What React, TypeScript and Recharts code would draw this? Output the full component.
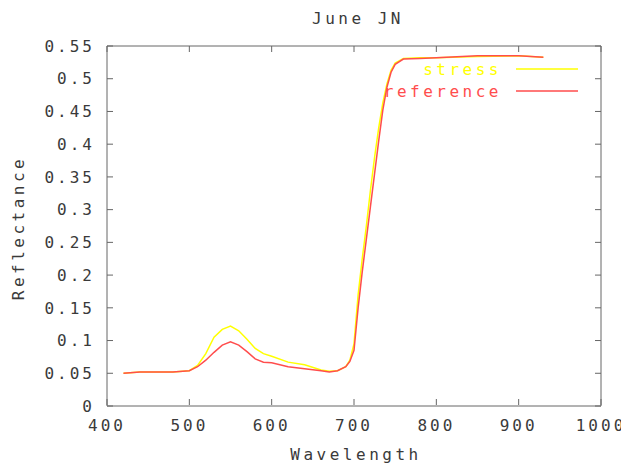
import React from 'react';
import { LineChart, Line, XAxis, YAxis, Legend } from 'recharts';

const wavelength = [
  420, 440, 460, 480, 500, 510, 520, 530, 540, 550, 560, 570, 580, 590, 600,
  620, 640, 660, 670, 680, 690, 695, 700, 705, 710, 715, 720, 725, 730, 735,
  740, 745, 750, 760, 780, 800, 850, 900, 930,
];
const stress = [
  0.05, 0.052, 0.052, 0.052, 0.054, 0.062, 0.08, 0.105, 0.117, 0.122, 0.115,
  0.102, 0.088, 0.08, 0.076, 0.067, 0.063, 0.055, 0.053, 0.054, 0.06, 0.07,
  0.095, 0.17, 0.225, 0.275, 0.33, 0.38, 0.425, 0.463, 0.492, 0.513, 0.524,
  0.531, 0.532, 0.532, 0.534, 0.535, 0.533,
];
const reference = [
  0.05, 0.052, 0.052, 0.052, 0.054, 0.06, 0.07, 0.082, 0.093, 0.098, 0.093,
  0.083, 0.072, 0.067, 0.066, 0.06, 0.057, 0.054, 0.052, 0.054, 0.06, 0.068,
  0.085, 0.15, 0.205, 0.255, 0.305, 0.355, 0.405, 0.452, 0.487, 0.51, 0.522,
  0.53, 0.531, 0.532, 0.535, 0.535, 0.533,
];
const xTicks = [400, 500, 600, 700, 800, 900, 1000];
const yTicks = [0, 0.05, 0.1, 0.15, 0.2, 0.25, 0.3, 0.35, 0.4, 0.45, 0.5, 0.55];

const data = wavelength.map((wl, i) => ({
  wl,
  stress: stress[i],
  reference: reference[i],
}));

const FONT = '"DejaVu Sans Mono", monospace';
const TEXT = '#3a3a3a';
const AXIS = '#666666';
const YELLOW = '#ffff00';
const RED = '#ff4d4d';
const TICK = 6;

const textStyle = { fontFamily: FONT, fontSize: 16, letterSpacing: 3.5, fill: TEXT };
const tickText = { ...textStyle, letterSpacing: 3 };

// gnuplot-style ticks point into the plot
const BottomTick = (props: any) => {
  const { x, y, payload } = props;
  const axisY = y - 15;
  return (
    <g>
      <line x1={x} x2={x} y1={axisY} y2={axisY - TICK} stroke={AXIS} />
      <text x={x} y={y} dy="0.71em" textAnchor="middle" style={tickText}>
        {payload.value}
      </text>
    </g>
  );
};

const LeftTick = (props: any) => {
  const { x, y, payload } = props;
  const axisX = x + 15;
  return (
    <g>
      <line x1={axisX} x2={axisX + TICK} y1={y} y2={y} stroke={AXIS} />
      <text x={x + 3} y={y} dy="0.36em" textAnchor="end" style={tickText}>
        {payload.value}
      </text>
    </g>
  );
};

const TopTick = (props: any) => {
  const { x, y } = props;
  return <line x1={x} x2={x} y1={y} y2={y + TICK} stroke={AXIS} />;
};

const RightTick = (props: any) => {
  const { x, y } = props;
  return <line x1={x} x2={x - TICK} y1={y} y2={y} stroke={AXIS} />;
};

const renderLegend = (props: any) => {
  const items = [...props.payload].reverse();
  return (
    <div style={{ fontFamily: FONT, fontSize: 16, letterSpacing: 3.5 }}>
      {items.map((p: any) => (
        <div
          key={p.value}
          style={{ display: 'flex', alignItems: 'center', height: 22 }}
        >
          <span style={{ width: 132, textAlign: 'right', color: p.color }}>
            {p.value}
          </span>
          <svg width={62} height={4} style={{ marginLeft: 14 }}>
            <line x1={0} y1={2} x2={62} y2={2} stroke={p.color} strokeWidth={1.5} />
          </svg>
        </div>
      ))}
    </div>
  );
};

export default function App() {
  return (
    <LineChart
      width={621}
      height={455}
      data={data}
      margin={{ top: 37, right: 27, left: 0, bottom: 0 }}
    >
      <XAxis
        dataKey="wl"
        type="number"
        domain={[400, 1000]}
        ticks={xTicks}
        allowDataOverflow
        height={57}
        stroke={AXIS}
        tickLine={false}
        tickSize={0}
        tickMargin={14}
        tick={<BottomTick />}
        label={({ viewBox }: any) => (
          <text
            x={viewBox.x + viewBox.width / 2 + 2}
            y={viewBox.y + 48}
            textAnchor="middle"
            dominantBaseline="central"
            style={textStyle}
          >
            Wavelength
          </text>
        )}
      />
      <XAxis
        xAxisId="top"
        orientation="top"
        dataKey="wl"
        type="number"
        domain={[400, 1000]}
        ticks={xTicks}
        allowDataOverflow
        height={1}
        stroke={AXIS}
        tickLine={false}
        tickSize={0}
        tickMargin={0}
        tick={<TopTick />}
        label={({ viewBox }: any) => (
          <text
            x={viewBox.x + viewBox.width / 2 + 4}
            y={10}
            textAnchor="middle"
            dominantBaseline="central"
            style={textStyle}
          >
            June JN
          </text>
        )}
      />
      <YAxis
        type="number"
        domain={[0, 0.55]}
        ticks={yTicks}
        allowDataOverflow
        width={99}
        stroke={AXIS}
        tickLine={false}
        tickSize={0}
        tickMargin={15}
        tick={<LeftTick />}
        label={({ viewBox }: any) => {
          const x = 10;
          const y = viewBox.y + viewBox.height / 2 + 2;
          return (
            <text
              x={x}
              y={y}
              transform={`rotate(-90, ${x}, ${y})`}
              textAnchor="middle"
              dominantBaseline="central"
              style={textStyle}
            >
              Reflectance
            </text>
          );
        }}
      />
      <YAxis
        yAxisId="right"
        orientation="right"
        type="number"
        domain={[0, 0.55]}
        ticks={yTicks}
        allowDataOverflow
        width={1}
        stroke={AXIS}
        tickLine={false}
        tickSize={0}
        tickMargin={0}
        tick={<RightTick />}
      />
      <Legend
        layout="horizontal"
        verticalAlign="middle"
        align="center"
        content={renderLegend}
        wrapperStyle={{ position: 'absolute', left: 362, top: 50, width: 230 }}
      />
      <Line
        type="linear"
        dataKey="stress"
        name="stress"
        stroke={YELLOW}
        strokeWidth={1.5}
        dot={false}
        isAnimationActive={false}
      />
      <Line
        type="linear"
        dataKey="reference"
        name="reference"
        stroke={RED}
        strokeWidth={1.5}
        dot={false}
        isAnimationActive={false}
      />
    </LineChart>
  );
}
